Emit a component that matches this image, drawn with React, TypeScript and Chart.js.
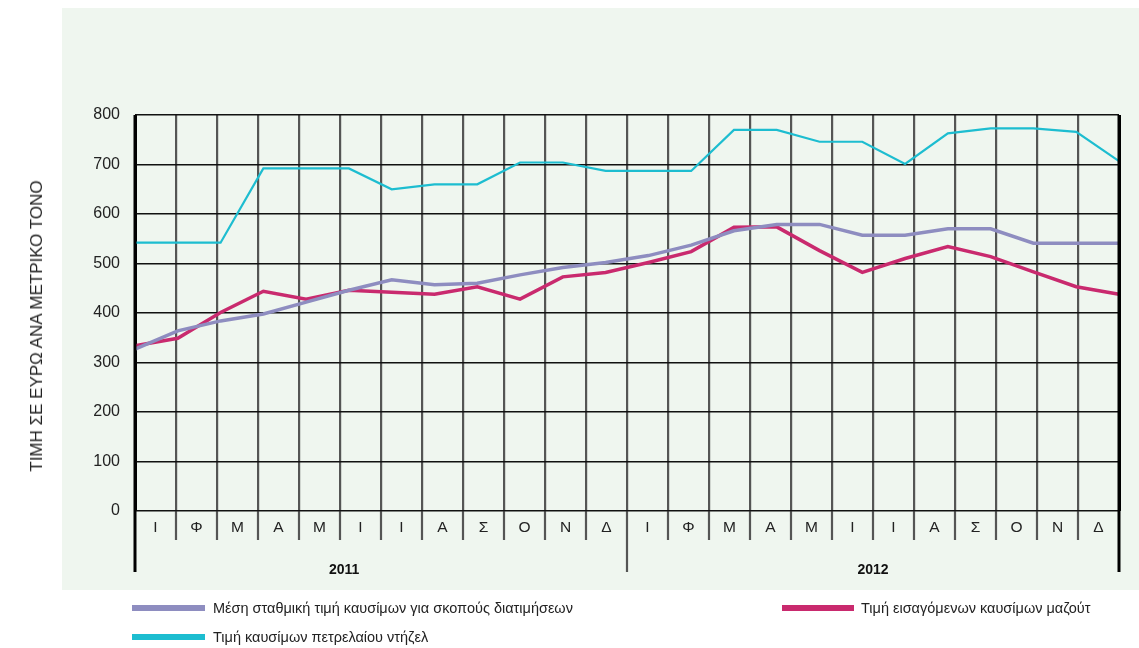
import React, { useEffect, useRef } from "react";
import { Chart, registerables } from "chart.js";

Chart.register(...registerables);

// ---- data ----
const MONTHS = ["Ι", "Φ", "Μ", "Α", "Μ", "Ι", "Ι", "Α", "Σ", "Ο", "Ν", "Δ", "Ι", "Φ", "Μ", "Α", "Μ", "Ι", "Ι", "Α", "Σ", "Ο", "Ν", "Δ"];
const YEARS = ["2011", "2012"];
const POINT_LABELS = MONTHS.map((m, i) => `${m} ${YEARS[Math.floor(i / 12)]}`);

const WEIGHTED = [327, 364, 384, 398, 422, 446, 467, 457, 460, 477, 492, 502, 516, 537, 566, 579, 579, 557, 557, 570, 570, 541, 541, 541];
const IMPORTED = [334, 349, 401, 444, 428, 446, 442, 438, 453, 428, 473, 482, 502, 524, 573, 574, 526, 482, 510, 534, 514, 483, 453, 438];
const DIESEL = [542, 542, 542, 692, 692, 692, 650, 660, 660, 704, 704, 687, 687, 687, 770, 770, 746, 746, 701, 763, 773, 773, 766, 707];

const SERIES_NAMES = [
  "Μέση σταθμική τιμή καυσίμων για σκοπούς διατιμήσεων",
  "Τιμή εισαγόμενων καυσίμων μαζούτ",
  "Τιμή καυσίμων πετρελαίου ντήζελ",
];
const COLORS = ["#8E8DC0", "#C92A6E", "#1DBDD0"];
const Y_TITLE = "ΤΙΜΗ ΣΕ ΕΥΡΩ ΑΝΑ ΜΕΤΡΙΚΟ ΤΟΝΟ";
const YEAR_LABEL_POS = [5.1, 18];

const FONT = "'Liberation Sans', Arial, Helvetica, sans-serif";
const VGRID = "rgba(45,45,45,0.8)";

export default function App() {
  const ref = useRef<HTMLCanvasElement | null>(null);

  useEffect(() => {
    if (!ref.current) return;

    const panelPlugin = {
      id: "panel",
      beforeDraw(chart: any) {
        const ctx = chart.ctx;
        ctx.save();
        ctx.fillStyle = "#EFF6EF";
        ctx.fillRect(62, 8, chart.width - 62, 582);
        ctx.restore();
      },
    };

    const belowAxisPlugin = {
      id: "belowAxis",
      afterDraw(chart: any) {
        const ctx = chart.ctx;
        const xg = chart.scales.xg;
        const area = chart.chartArea;
        const b = area.bottom;
        ctx.save();
        for (let i = 0; i <= MONTHS.length; i++) {
          const x = xg.getPixelForValue(i);
          const edge = i === 0 || i === MONTHS.length;
          const long = i % 12 === 0;
          ctx.beginPath();
          ctx.strokeStyle = edge ? "#000" : VGRID;
          ctx.lineWidth = edge ? 3 : 2.2;
          ctx.moveTo(x, edge ? area.top : b);
          ctx.lineTo(x, b + (long ? 61 : 29));
          ctx.stroke();
        }
        ctx.fillStyle = "#222";
        ctx.textAlign = "center";
        ctx.textBaseline = "middle";
        ctx.font = `15.5px ${FONT}`;
        MONTHS.forEach((m, i) => {
          ctx.fillText(m, xg.getPixelForValue(i + 0.5), b + 17);
        });
        ctx.font = `bold 14px ${FONT}`;
        ctx.fillStyle = "#111";
        YEARS.forEach((y, k) => {
          ctx.fillText(y, xg.getPixelForValue(YEAR_LABEL_POS[k]), b + 59);
        });
        ctx.restore();
      },
    };

    const data = [WEIGHTED, IMPORTED, DIESEL];
    const widths = [3.5, 3.5, 2.2];

    const chart = new Chart(ref.current, {
      type: "line",
      data: {
        labels: POINT_LABELS,
        datasets: data.map((d, i) => ({
          label: SERIES_NAMES[i],
          data: d,
          borderColor: COLORS[i],
          backgroundColor: COLORS[i],
          borderWidth: widths[i],
          pointRadius: 0,
          tension: 0,
          fill: false,
          xAxisID: "x",
          yAxisID: "y",
        })),
      },
      options: {
        animation: false,
        responsive: false,
        layout: { padding: { left: 0, top: 115, right: 20, bottom: 137 } },
        plugins: {
          legend: { display: false },
          tooltip: { enabled: false },
          title: { display: false },
        },
        scales: {
          x: {
            type: "category",
            offset: false,
            display: false,
          },
          xg: {
            type: "linear",
            position: "bottom",
            min: 0,
            max: MONTHS.length,
            ticks: { stepSize: 1, display: false },
            grid: {
              drawTicks: false,
              color: (c: any) => (c.tick && (c.tick.value === 0 || c.tick.value === MONTHS.length) ? "#000" : VGRID),
              lineWidth: (c: any) => (c.tick && (c.tick.value === 0 || c.tick.value === MONTHS.length) ? 3 : 2.2),
            },
            border: { display: false },
            afterFit: (s: any) => {
              s.height = 0;
            },
          },
          y: {
            type: "linear",
            min: 0,
            max: 800,
            ticks: {
              stepSize: 100,
              padding: 15,
              color: "#222",
              font: { family: FONT, size: 16 },
            },
            grid: { drawTicks: false, color: "#111", lineWidth: 1.5 },
            border: { display: false },
            afterFit: (s: any) => {
              s.width = 135;
            },
          },
        },
      },
      plugins: [panelPlugin, belowAxisPlugin],
    });
    return () => chart.destroy();
  }, []);

  const legendText: React.CSSProperties = {
    position: "absolute",
    fontFamily: FONT,
    fontSize: 14.5,
    color: "#222",
    lineHeight: "16px",
    whiteSpace: "nowrap",
  };
  const sw = (left: number, top: number, width: number, color: string): React.CSSProperties => ({
    position: "absolute",
    left,
    top,
    width,
    height: 6,
    background: color,
  });

  return (
    <div style={{ position: "fixed", left: 0, top: 0, width: 1139, height: 648, background: "#fff", overflow: "hidden" }}>
      <canvas ref={ref} width={1139} height={648} style={{ position: "absolute", left: 0, top: 0, width: 1139, height: 648 }} />
      <div
        style={{
          position: "absolute",
          left: 37,
          top: 326,
          transform: "translate(-50%, -50%) rotate(-90deg)",
          fontFamily: FONT,
          fontSize: 17,
          color: "#222",
          whiteSpace: "nowrap",
        }}
      >
        {Y_TITLE}
      </div>
      <div style={sw(132, 605, 73, COLORS[0])} />
      <div style={{ ...legendText, left: 213, top: 600 }}>{SERIES_NAMES[0]}</div>
      <div style={sw(782, 605, 72, COLORS[1])} />
      <div style={{ ...legendText, left: 861, top: 600 }}>{SERIES_NAMES[1]}</div>
      <div style={sw(132, 634, 73, COLORS[2])} />
      <div style={{ ...legendText, left: 213, top: 629 }}>{SERIES_NAMES[2]}</div>
    </div>
  );
}
